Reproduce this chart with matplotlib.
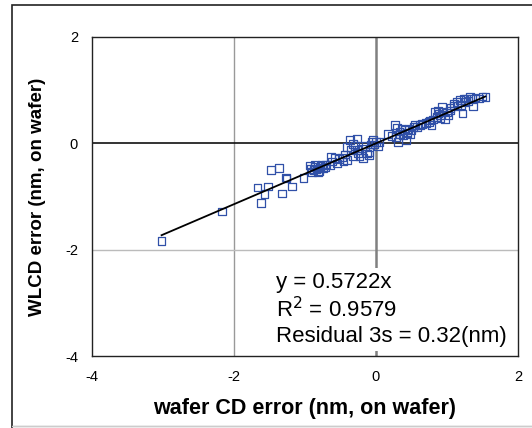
import numpy as np
import matplotlib
matplotlib.use("Agg")
import matplotlib.pyplot as plt
from matplotlib.patches import Rectangle

plt.rcParams['font.family'] = ['Liberation Sans', 'DejaVu Sans']
plt.rcParams['axes.unicode_minus'] = False

# wafer CD error vs WLCD error (nm, on wafer)
wafer_cd = [-3.02, -2.17, -1.62, -1.67, -1.57, -1.52, -1.48, -1.37, -1.32, -1.27,
            -1.26, -1.18, -1.02, -0.93, -0.90, -0.86, -0.82, -0.79, -0.76, -0.72,
            -0.65, -0.63, -0.58, -0.55, -0.46, -0.41, -0.44, -0.41, -0.37, -0.27,
            -0.32, -0.27, -0.32, -0.23, -0.18, -0.13, -0.09, -0.04, -0.08, 0.03,
            0.00, 0.17, 0.27, 0.28, 0.31, 0.36, 0.41, 0.42, 0.34, 0.48,
            0.53, 0.55, 0.62, 0.76, 0.78, 0.83, 0.88, 0.93, 0.97, 1.02,
            1.04, 1.09, 1.14, 1.18, 1.22, 1.23, 1.27, 1.32, 1.37, 1.46,
            1.54,
            -0.88, -0.84, -0.80, -0.78, -0.74, -0.70, -0.86, -0.92, -0.62, -0.52,
            -0.48, -0.35, -0.30, -0.25, -0.20, -0.15, -0.10, -0.06, -0.02, 0.05,
            0.22, 0.30, 0.33, 0.38, 0.44, 0.46, 0.50, 0.58, 0.65, 0.70,
            0.75, 0.80, 0.85, 0.90, 0.95, 1.00, 1.05, 1.10, 1.15, 1.20,
            1.25, 1.30, 1.35, 1.40, 1.50, 0.87, 0.91]
wlcd = [-1.84, -1.28, -1.12, -0.83, -0.95, -0.81, -0.50, -0.46, -0.94, -0.64,
        -0.66, -0.81, -0.65, -0.42, -0.54, -0.45, -0.55, -0.46, -0.41, -0.45,
        -0.41, -0.26, -0.28, -0.38, -0.34, -0.31, -0.21, -0.07, 0.06, 0.09,
        -0.01, -0.13, -0.24, -0.24, -0.28, -0.19, -0.16, 0.06, -0.02, -0.06,
        0.03, 0.18, 0.35, 0.12, 0.03, 0.28, 0.25, 0.06, 0.18, 0.18,
        0.31, 0.34, 0.34, 0.43, 0.34, 0.59, 0.56, 0.68, 0.46, 0.53,
        0.62, 0.71, 0.78, 0.81, 0.56, 0.84, 0.84, 0.87, 0.70, 0.84,
        0.87,
        -0.50, -0.48, -0.52, -0.43, -0.47, -0.40, -0.40, -0.48, -0.34, -0.30,
        -0.27, -0.12, -0.05, -0.18, -0.10, -0.05, -0.22, 0.02, -0.02, 0.02,
        0.14, 0.30, 0.22, 0.15, 0.20, 0.27, 0.24, 0.31, 0.36, 0.38,
        0.40, 0.45, 0.50, 0.52, 0.60, 0.58, 0.66, 0.75, 0.70, 0.72,
        0.78, 0.80, 0.83, 0.86, 0.88, 0.62, 0.48]

slope = 0.5722
fit_x = [min(wafer_cd), max(wafer_cd)]

fig = plt.figure(figsize=(5.32, 4.28), dpi=100)
ax = fig.add_axes([92/532, 1 - 356/428, 426/532, 319/428])

# outer frame of the figure
fig.patches.append(Rectangle((12/532, -0.01), 1.0, 1 - 5/428 + 0.01, transform=fig.transFigure,
                             fill=False, edgecolor='#222222', linewidth=1.2))
fig.patches.append(Rectangle((12/532, 2/428), 1.0, 0, transform=fig.transFigure,
                             fill=False, edgecolor='#cccccc', linewidth=1.0))

ax.axvline(-2, color='#999999', lw=1.0, zorder=1)
ax.axhline(-2, color='#bbbbbb', lw=1.0, zorder=1)
ax.axvline(0, color='#808080', lw=1.8, zorder=1)
ax.axhline(0, color='#111111', lw=1.2, zorder=1)

ax.scatter(wafer_cd, wlcd, marker='s', s=30, facecolors='none',
           edgecolors='#3050a8', linewidths=0.9, zorder=3)
ax.plot(fit_x, [slope * v for v in fit_x], color='black', lw=1.3, zorder=4)

ax.set_xlim(-4, 2)
ax.set_ylim(-4, 2)
ax.set_xticks([-4, -2, 0, 2])
ax.set_yticks([-4, -2, 0, 2])
ax.tick_params(length=0, labelsize=10.5, pad=10)
for s in ax.spines.values():
    s.set_linewidth(1.0)
    s.set_color('#222222')

ax.set_xlabel('wafer CD error (nm, on wafer)', fontsize=15.5, fontweight='bold', labelpad=10)
ax.set_ylabel('WLCD error (nm, on wafer)', fontsize=13.5, fontweight='bold', labelpad=14)

ax.text(0.432, 0.262, 'y = 0.5722x\nR$^2$ = 0.9579\nResidual 3s = 0.32(nm)',
        transform=ax.transAxes, fontsize=16, va='top', ha='left', linespacing=1.2,
        zorder=5, bbox=dict(facecolor='white', edgecolor='none', pad=3))

fig.savefig('out.png', dpi=100)
